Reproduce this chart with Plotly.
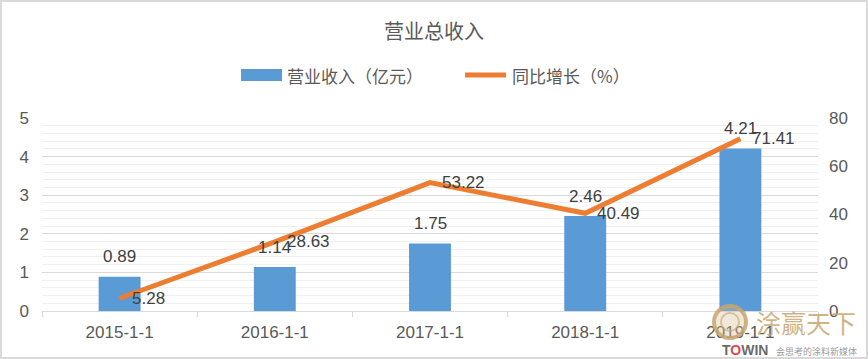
import plotly.graph_objects as go

categories = ["2015-1-1", "2016-1-1", "2017-1-1", "2018-1-1", "2019-1-1"]
revenue = [0.89, 1.14, 1.75, 2.46, 4.21]
growth = [5.28, 28.63, 53.22, 40.49, 71.41]
left_ticks = [0, 1, 2, 3, 4, 5]
right_ticks = [0, 20, 40, 60, 80]
bar_name = "营业收入（亿元）"
line_name = "同比增长（%）"

FONT = "Liberation Sans, Noto Sans CJK SC, sans-serif"
CJK = "Noto Sans CJK SC, sans-serif"
TXT = "#595959"
LBL = "#404040"
BLUE = "#5B9BD5"
ORANGE = "#ED7D31"
TAN = "rgba(200,165,110,0.85)"

W, H = 868, 359
L, R, T, B = 42, 50, 118, 48
pw, ph = W - L - R, H - T - B


def px(x):
    return (x - L) / pw


def py(y):
    return (H - B - y) / ph


fig = go.Figure()
fig.add_trace(go.Bar(
    x=categories, y=revenue, name=bar_name,
    marker=dict(color=BLUE, line=dict(width=0)),
    yaxis="y", showlegend=False,
))
fig.add_trace(go.Scatter(
    x=categories, y=growth, name=line_name,
    mode="lines", line=dict(color=ORANGE, width=5),
    yaxis="y2", showlegend=False,
))

annotations = []
for c, v in zip(categories, revenue):
    annotations.append(dict(x=c, y=v, xref="x", yref="y", text=f"{v:.2f}",
                            showarrow=False, yanchor="middle", yshift=20,
                            font=dict(family=FONT, size=17, color=LBL)))
for c, v in zip(categories, growth):
    annotations.append(dict(x=c, y=v, xref="x", yref="y2", text=f"{v:.2f}",
                            showarrow=False, xanchor="left", yanchor="middle", xshift=10,
                            font=dict(family=FONT, size=17, color=LBL)))

# legend (drawn)
annotations.append(dict(xref="paper", yref="paper", x=px(285), y=py(75), text=bar_name,
                        showarrow=False, xanchor="left", yanchor="middle",
                        font=dict(family=CJK, size=17, color=TXT)))
annotations.append(dict(xref="paper", yref="paper", x=px(510), y=py(75), text=line_name,
                        showarrow=False, xanchor="left", yanchor="middle",
                        font=dict(family=CJK, size=17, color=TXT)))

# watermark-like logo text
annotations.append(dict(xref="paper", yref="paper", x=px(806), y=py(322), text="涂赢天下",
                        showarrow=False, xanchor="center", yanchor="middle",
                        font=dict(family=CJK, size=25, color=TAN)))
annotations.append(dict(xref="paper", yref="paper", x=px(745), y=py(350),
                        text="<b>T<span style='color:#E03A3A'>O</span>WIN</b>",
                        showarrow=False, xanchor="center", yanchor="middle",
                        font=dict(family=FONT, size=14, color="rgba(95,95,95,0.95)")))
annotations.append(dict(xref="paper", yref="paper", x=px(816), y=py(351), text="会思考的涂料新媒体",
                        showarrow=False, xanchor="center", yanchor="middle",
                        font=dict(family=CJK, size=9, color="rgba(140,140,140,0.9)")))

shapes = [
    dict(type="rect", xref="paper", yref="paper",
         x0=px(1), x1=px(W - 1), y0=py(H - 1), y1=py(1),
         line=dict(color="#D9D9D9", width=2), fillcolor="rgba(0,0,0,0)", layer="below"),
    dict(type="rect", xref="paper", yref="paper",
         x0=px(241), x1=px(282), y0=py(81), y1=py(69),
         line=dict(width=0), fillcolor=BLUE),
    dict(type="line", xref="paper", yref="paper",
         x0=px(465), x1=px(506), y0=py(75), y1=py(75),
         line=dict(color=ORANGE, width=5)),
    dict(type="circle", xref="paper", yref="paper",
         x0=px(714), x1=px(746), y0=py(338), y1=py(306),
         line=dict(color=TAN, width=4), fillcolor="rgba(215,190,150,0.35)"),
    dict(type="circle", xref="paper", yref="paper",
         x0=px(721), x1=px(739), y0=py(331), y1=py(313),
         line=dict(color="rgba(200,165,110,0.6)", width=2), fillcolor="rgba(0,0,0,0)"),
]

fig.update_layout(
    width=W, height=H,
    margin=dict(l=L, r=R, t=T, b=B, pad=0, autoexpand=False),
    paper_bgcolor="white", plot_bgcolor="white",
    title=dict(text="营业总收入", x=0.5, xanchor="center", y=1 - 32 / H, yanchor="middle",
               font=dict(family=CJK, size=20, color=TXT)),
    showlegend=False,
    bargap=0.73,
    xaxis=dict(type="category", showgrid=False, showline=True, linecolor="#D9D9D9", linewidth=1,
               ticks="outside", tickson="boundaries", ticklen=5, tickcolor="#D9D9D9",
               ticklabelstandoff=6,
               tickfont=dict(family=FONT, size=17, color=TXT), zeroline=False),
    yaxis=dict(range=[0, 5], tickvals=left_ticks, showgrid=True, gridcolor="#D9D9D9", gridwidth=1,
               minor=dict(dtick=0.2, showgrid=True, gridcolor="#F0F0F0", gridwidth=1),
               zeroline=False, showline=False, ticks="", ticklabelstandoff=12,
               tickfont=dict(family=FONT, size=17, color=TXT)),
    yaxis2=dict(range=[0, 80], tickvals=right_ticks, overlaying="y", side="right",
                showgrid=False, zeroline=False, showline=False, ticks="", ticklabelstandoff=10,
                tickfont=dict(family=FONT, size=17, color=TXT)),
    annotations=annotations,
    shapes=shapes,
)

fig.write_html("out.html", config={"displayModeBar": False},
               post_script="document.body.style.margin='0';document.body.style.padding='0';")
